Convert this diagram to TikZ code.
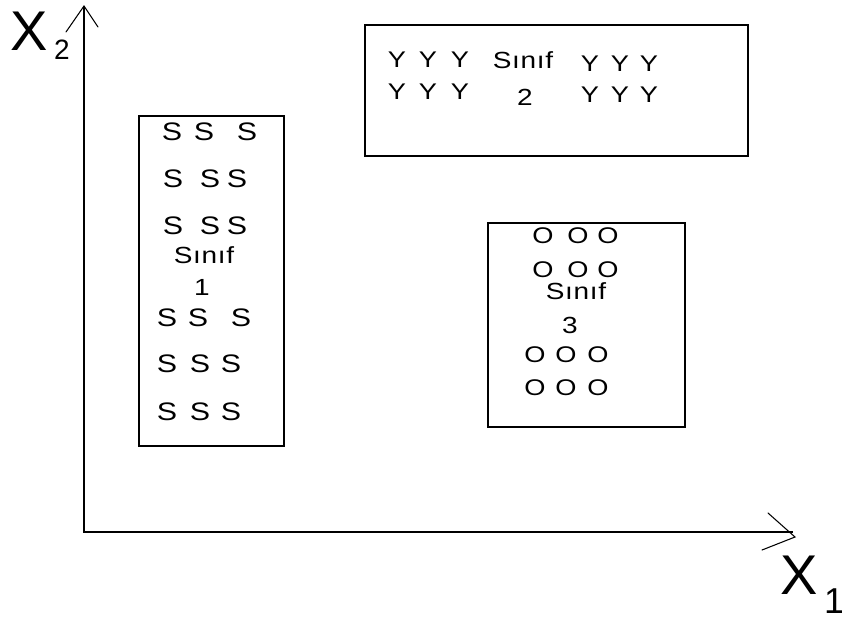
\documentclass[tikz,border=0pt]{standalone}
\usepackage{fontspec}
\setmainfont{Liberation Sans}
\newfontfamily\plotfont[FakeStretch=1.2]{Liberation Sans}
\newfontfamily\classfont[FakeStretch=1.2,LetterSpace=3]{Liberation Sans}
\usetikzlibrary{positioning}

\tikzset{
  datum/.style={font=\plotfont\fontsize{17}{17}\selectfont, inner sep=0pt, text depth=0pt},
  sdatum/.style={datum, font=\plotfont\fontsize{19}{19}\selectfont},
  classlabel/.style={font=\classfont\fontsize{17.5}{17.5}\selectfont, inner sep=0pt, text depth=0pt},
  axislabel/.style={font=\fontsize{42}{42}\selectfont, inner sep=0pt, text depth=0pt},
  axisindex/.style={font=\fontsize{21}{21}\selectfont, inner sep=0pt, text depth=0pt},
  frame/.style={line width=1.5pt},
  barb/.style={line width=0.8pt, line cap=round}
}

\begin{document}
\begin{tikzpicture}[x=0.75pt, y=-0.75pt]
    \useasboundingbox (0,0) rectangle (842,622);

    % Axes
    \coordinate (O) at (84,532);
    \coordinate (xend) at (793,532);
    \coordinate (yend) at (84,6);
    \draw[frame] (yend) -- (O) -- (xend);
    \draw[barb] (66,32) -- (84,6) -- (98,27);
    \draw[barb] (768,513) -- (795,537) -- (762,550);

    \node[axislabel] (x2) at (29,31) {X};
    \node[axisindex] (x2i) at (62,50) {2};
    \node[axislabel] (x1) at (799,575) {X};
    \node[axislabel, font=\fontsize{27}{27}\selectfont] (x1i) at (834,601) {1};

    % Class boxes
    \draw[frame] (139,116) rectangle (284,446);
    \draw[frame] (365,25) rectangle (748,156);
    \draw[frame] (488,223) rectangle (685,427);

    % Class 1
    \foreach \x/\y [count=\i] in {172/132, 204/132, 247/132,
                                  173/179, 210/179, 237/179,
                                  173/226, 210/226, 237/226,
                                  167/318, 198/318, 241/318,
                                  167/364, 200/364, 231/364,
                                  167/412, 200/412, 231/412}
        \node[sdatum] (s\i) at (\x,\y) {S};
    \node[classlabel] (c1) at (204,255) {Sınıf};
    \node[classlabel] (c1n) at (202,287) {1};

    % Class 2
    \foreach \x/\y [count=\i] in {397/60, 428/60, 460/60,
                                  397/92, 428/92, 460/92,
                                  590/64, 620/64, 649/64,
                                  590/95, 620/95, 649/95}
        \node[datum] (y\i) at (\x,\y) {Y};
    \node[classlabel] (c2) at (523,60) {Sınıf};
    \node[classlabel] (c2n) at (525,97) {2};

    % Class 3
    \foreach \x/\y [count=\i] in {543/236, 578/236, 608/236,
                                  543/270, 578/270, 608/270,
                                  535/355, 566/355, 598/355,
                                  535/388, 566/388, 598/388}
        \node[datum] (o\i) at (\x,\y) {O};
    \node[classlabel] (c3) at (576,291) {Sınıf};
    \node[classlabel] (c3n) at (570,325) {3};
\end{tikzpicture}
\end{document}
